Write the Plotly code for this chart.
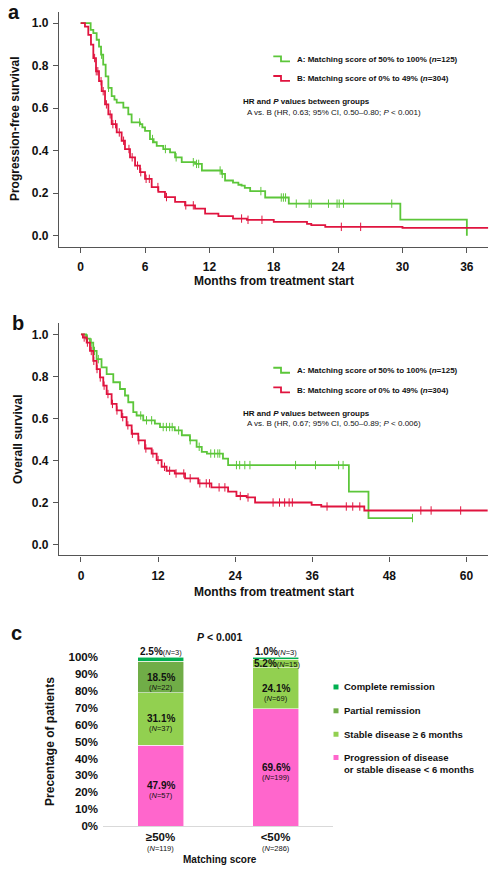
import numpy as np
import plotly.graph_objects as go

FONT = "Liberation Sans, Arial, Helvetica, sans-serif"
GREEN = "#5CC63A"
RED = "#E0143F"
AXIS = "#555555"
W, H = 498, 878

# ---- panel a: progression-free survival (months, survival after each step)
pfs_a_time = [0, 0.93, 1.18, 1.49, 1.71, 1.9, 2.1, 2.33, 2.58, 2.89, 3.15, 3.36, 3.98, 4.44, 4.75,
              5.53, 5.75, 6.0, 6.46, 6.8, 7.09, 7.7, 8.33, 8.8, 9.42, 10.66, 11.3, 13.15, 13.46,
              14.2, 14.7, 15.0, 15.3, 15.8, 17.2, 19.4, 29.8, 36.0]
pfs_a_surv = [1.0, 0.969, 0.953, 0.922, 0.89, 0.852, 0.805, 0.75, 0.696, 0.657, 0.64, 0.626, 0.603,
              0.571, 0.533, 0.525, 0.51, 0.493, 0.455, 0.44, 0.423, 0.408, 0.392, 0.369, 0.346,
              0.338, 0.307, 0.291, 0.26, 0.25, 0.24, 0.236, 0.225, 0.21, 0.18, 0.151, 0.076, 0.0]
pfs_a_cens = [1.95, 2.6, 5.5, 6.7, 7.9, 8.9, 10.5, 10.8, 11.0, 13.0, 13.2, 16.8, 18.7, 18.9, 19.1,
              20.1, 21.3, 21.5, 23.1, 23.9, 24.1, 24.5, 29.0]

pfs_b_time = [0, 0.4, 0.71, 0.96, 1.18, 1.43, 1.71, 1.96, 2.27, 2.58, 2.89, 3.36, 3.82, 4.13, 4.6,
              5.07, 5.53, 6.0, 6.62, 7.24, 7.86, 8.8, 9.73, 10.66, 11.6, 12.84, 14.2, 15.5, 18.0,
              21.1, 21.5, 22.8, 30.0, 38.0]
pfs_b_surv = [1.0, 0.984, 0.945, 0.899, 0.836, 0.774, 0.727, 0.68, 0.618, 0.571, 0.525, 0.486,
              0.447, 0.408, 0.369, 0.33, 0.299, 0.268, 0.229, 0.206, 0.182, 0.159, 0.143, 0.128,
              0.104, 0.092, 0.081, 0.075, 0.065, 0.056, 0.05, 0.042, 0.037, 0.037]
pfs_b_cens = [1.3, 1.45, 1.6, 1.9, 2.1, 2.4, 2.75, 3.0, 3.25, 3.6, 4.0, 4.5, 4.8, 5.3, 5.6, 6.1,
              6.4, 7.2, 8.0, 9.8, 10.5, 15.0, 15.6, 16.9, 24.3, 26.1]

# ---- panel b: overall survival
os_a_time = [0, 0.8, 1.4, 1.91, 2.44, 3.2, 4.0, 5.03, 6.07, 6.85, 7.36, 8.14, 8.66, 9.69, 11.5,
             12.3, 14.6, 15.7, 16.96, 18.0, 18.8, 19.6, 22.1, 22.9, 41.7, 44.75, 51.6]
os_a_surv = [1.0, 0.98, 0.961, 0.921, 0.882, 0.843, 0.811, 0.772, 0.74, 0.709, 0.677, 0.63, 0.614,
             0.591, 0.575, 0.559, 0.543, 0.52, 0.496, 0.465, 0.441, 0.433, 0.409, 0.378, 0.252,
             0.126, 0.126]
os_a_cens = [1.0, 1.6, 2.1, 2.7, 9.3, 10.2, 11.0, 12.8, 13.3, 13.8, 14.2, 15.2, 17.0, 18.4, 20.2,
             20.8, 21.3, 21.6, 24.2, 24.7, 25.5, 26.3, 33.4, 36.5, 40.1, 40.8, 51.6]

os_b_time = [0, 0.3, 0.89, 1.4, 1.91, 2.44, 2.96, 3.47, 4.0, 4.77, 5.55, 6.33, 7.1, 7.89, 8.92,
             9.96, 11.0, 11.78, 12.55, 13.33, 14.6, 16.2, 18.25, 20.3, 22.9, 24.2, 25.8, 27.1,
             35.9, 37.4, 44.1, 63.3]
os_b_surv = [1.0, 0.985, 0.961, 0.921, 0.874, 0.835, 0.795, 0.756, 0.716, 0.669, 0.638, 0.606,
             0.567, 0.527, 0.496, 0.457, 0.433, 0.402, 0.37, 0.351, 0.338, 0.315, 0.291, 0.272,
             0.252, 0.231, 0.224, 0.2, 0.189, 0.181, 0.162, 0.162]
os_b_cens = [0.5, 1.0, 1.6, 2.0, 2.5, 3.0, 3.6, 4.2, 4.9, 5.6, 6.5, 7.3, 8.0, 9.0, 10.1, 11.2,
             12.0, 13.0, 13.8, 14.8, 16.0, 17.0, 18.5, 19.5, 20.0, 21.5, 22.4, 24.8, 26.0, 29.9,
             30.9, 31.7, 32.4, 32.9, 38.3, 41.3, 42.3, 43.4, 52.9, 54.5, 59.1]

legend_a = "A: Matching score of 50% to 100% (<i>n</i>=125)"
legend_b = "B: Matching score of 0% to 49% (<i>n</i>=304)"
hr_head = "HR and <i>P</i> values between groups"
hr_pfs = "A vs. B (HR, 0.63; 95% CI, 0.50\u20130.80; <i>P</i> &lt; 0.001)"
hr_os = "A vs. B (HR, 0.67; 95% CI, 0.50\u20130.89; <i>P</i> &lt; 0.006)"

# ---- panel c: best response by matching score
categories = ["\u226550%", "<50%"]
cat_n = [119, 286]
responses = ["Progression of disease<br>or stable disease < 6 months",
             "Stable disease \u2265 6 months", "Partial remission", "Complete remission"]
resp_pct = [[47.9, 69.6], [31.1, 24.1], [18.5, 5.2], [2.5, 1.0]]
resp_n = [[57, 199], [37, 69], [22, 15], [3, 3]]
resp_colors = [["#FF66CC", "#FF66CC"], ["#92D050", "#92D050"], ["#70AD47", "#92D050"],
               ["#00B050", "#00B050"]]
legend_colors = ["#FF66CC", "#92D050", "#70AD47", "#00B050"]
pct_ticks = list(range(0, 101, 10))


def px(x):
    return x / W


def py(y):
    return 1 - y / H


def step_value(times, surv, t):
    idx = np.searchsorted(np.asarray(times), np.asarray(t), side="right") - 1
    return np.asarray(surv)[idx]


fig = go.Figure()

curves = [
    ("x", "y", pfs_a_time, pfs_a_surv, pfs_a_cens, GREEN),
    ("x", "y", pfs_b_time, pfs_b_surv, pfs_b_cens, RED),
    ("x2", "y2", os_a_time, os_a_surv, os_a_cens, GREEN),
    ("x2", "y2", os_b_time, os_b_surv, os_b_cens, RED),
]
for xa, ya, t, s, c, col in curves:
    fig.add_trace(go.Scatter(x=t, y=s, mode="lines", line=dict(color=col, width=1.8, shape="hv"),
                             xaxis=xa, yaxis=ya, showlegend=False, hoverinfo="skip"))
    fig.add_trace(go.Scatter(x=c, y=step_value(t, s, c), mode="markers",
                             marker=dict(symbol="line-ns", size=6, line=dict(color=col, width=1)),
                             xaxis=xa, yaxis=ya, showlegend=False, hoverinfo="skip"))

for j, name in enumerate(responses):
    fig.add_trace(go.Bar(x=categories, y=resp_pct[j], name=name, width=0.4,
                         marker=dict(color=resp_colors[j], line=dict(color="rgba(255,255,255,0.7)", width=0.8)),
                         xaxis="x3", yaxis="y3", showlegend=False, hoverinfo="skip"))

tickfont = dict(family=FONT, size=12, color="#111111", weight="bold")
km_axis = dict(showline=True, linecolor=AXIS, linewidth=1.4, ticks="outside", ticklen=5,
               tickwidth=1.4, tickcolor=AXIS, showgrid=False, zeroline=False, tickfont=tickfont)

fig.update_layout(
    width=W, height=H, margin=dict(l=0, r=0, t=0, b=0),
    paper_bgcolor="white", plot_bgcolor="white", barmode="stack", hovermode=False,
    font=dict(family=FONT, color="#111111"),
    xaxis=dict(km_axis, domain=[px(59), px(488.3)], range=[-2.02, 38.0],
               tickvals=list(range(0, 37, 6)), anchor="y", ticklabelstandoff=4),
    yaxis=dict(km_axis, domain=[py(248.3), py(12)], range=[-0.051, 1.053],
               tickvals=[0, 0.2, 0.4, 0.6, 0.8, 1.0], tickformat=".1f", anchor="x",
               ticklabelstandoff=2),
    xaxis2=dict(km_axis, domain=[px(59), px(488.3)], range=[-3.42, 63.4],
                tickvals=list(range(0, 61, 12)), anchor="y2", ticklabelstandoff=4),
    yaxis2=dict(km_axis, domain=[py(559.3), py(325)], range=[-0.052, 1.055],
                tickvals=[0, 0.2, 0.4, 0.6, 0.8, 1.0], tickformat=".1f", anchor="x2",
                ticklabelstandoff=2),
    xaxis3=dict(domain=[px(103), px(333)], range=[-0.5, 1.5], showline=True, linecolor="#D9D9D9",
                linewidth=1, ticks="", showgrid=False, zeroline=False, anchor="y3",
                tickvals=categories,
                ticktext=["<b>%s</b>" % c.replace("<", "&lt;") for c in categories],
                tickfont=dict(family=FONT, size=11.5, color="#111111")),
    yaxis3=dict(domain=[py(831.7), py(650)], range=[0, 106.9], tickvals=pct_ticks,
                ticktext=["%d%%" % v for v in pct_ticks], ticklabelstandoff=4,
                showline=False, showgrid=False, zeroline=False, ticks="",
                tickfont=dict(family=FONT, size=11.5, color="#111111", weight="bold"), anchor="x3"),
)


def note(text, x, y, size, bold=False, anchor="center", angle=0, **kw):
    fig.add_annotation(text=text, x=px(x), y=py(y), xref="paper", yref="paper", showarrow=False,
                       xanchor=anchor, yanchor="middle", textangle=angle,
                       font=dict(family=FONT, size=size, color="#111111",
                                 weight="bold" if bold else "normal"), **kw)


# panel letters and axis titles
note("a", 14, 12, 20, True, borderpad=0)
note("b", 17.5, 325, 20, True)
note("c", 16.7, 637.7, 20, True)
note("Progression-free survival", 15, 130, 12, True, angle=-90)
note("Months from treatment start", 274, 283, 12, True)
note("Overall survival", 17.3, 442.6, 12, True, angle=-90)
note("Months from treatment start", 274, 595.7, 12, True)
note("Precentage of patients", 49.3, 746.7, 12, True, angle=-90)
note("Matching score", 220.3, 865, 10, True)
note("<i>P</i> &lt; 0.001", 219.3, 641.7, 10.5, True)

# KM legends and HR notes
for y0, hr in [(0, hr_pfs), (313.5, hr_os)]:
    for yc, txt, col in [(y0 + 59.8, legend_a, GREEN), (y0 + 79.5, legend_b, RED)]:
        fig.add_shape(type="path", xref="paper", yref="paper",
                      path="M%f,%f H%f V%f H%f" % (px(273.3), py(yc - 3), px(281), py(yc + 2), px(290)),
                      line=dict(color=col, width=1.8))
        note(txt, 295, yc, 8, True, anchor="left")
    note(hr_head, 240.7, y0 + 102.7, 8, True, anchor="left")
    note(hr, 245, y0 + 113.3, 8, False, anchor="left")

# group sizes under the category labels
for cat, n in zip(categories, cat_n):
    fig.add_annotation(text="(<i>N</i>=%d)" % n, x=cat, xref="x3", y=py(854), yref="paper",
                       showarrow=False, yanchor="middle",
                       font=dict(family=FONT, size=7.5, color="#111111"))

# bar segment labels
for i, cat in enumerate(categories):
    base = 0.0
    for j in range(len(responses)):
        v = resp_pct[j][i]
        mid = base + v / 2
        top = base + v
        base = top
        pct = "<b>%.1f%%</b>" % v
        nn = "(<i>N</i>=%d)" % resp_n[j][i]
        common = dict(x=cat, xref="x3", yref="y3", showarrow=False,
                      font=dict(family=FONT, size=10, color="#111111"))
        if v < 3:
            fig.add_annotation(text=pct + "<span style='font-size:7.5px'>%s</span>" % nn,
                               y=top, yanchor="middle", yshift=6, **common)
        elif v < 8:
            fig.add_annotation(text=pct + "<span style='font-size:7.5px'>%s</span>" % nn,
                               y=mid, yanchor="middle", xshift=1.5, **common)
        else:
            fig.add_annotation(text=pct, y=mid, yanchor="middle", **common)
            fig.add_annotation(text="<span style='font-size:7.5px'>%s</span>" % nn, y=mid,
                               yanchor="middle", yshift=-10, **common)

# panel c legend
leg_y = [762.7, 739.3, 715.7, 691.7]
for j, name in enumerate(responses):
    yc = leg_y[j]
    fig.add_shape(type="rect", xref="paper", yref="paper", x0=px(333.5), x1=px(338.5),
                  y0=py(yc + 2.5), y1=py(yc - 2.5), fillcolor=legend_colors[j], line=dict(width=0))
    note(name.replace("<br>", "\n").replace("<", "&lt;").replace("\n", "<br>"), 341.7,
         yc + (5.8 if "<br>" in name else 0), 9.5, True, anchor="left", align="left")

# drop the browser's default 8px page margin so the figure sits at the window corner
fig.write_html("out.html", config={"displayModeBar": False},
               post_script="document.body.style.margin = '0';")
